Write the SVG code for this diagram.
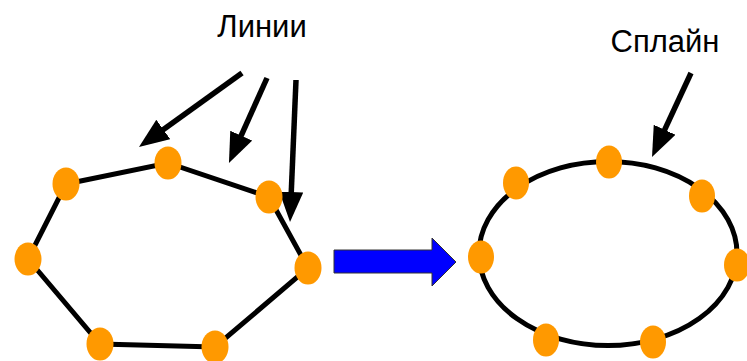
<svg xmlns="http://www.w3.org/2000/svg" width="747" height="361" viewBox="0 0 747 361">
  <style>
    .edge { stroke: #000; stroke-width: 5; fill: none; stroke-linecap: butt; }
    .ptr { stroke: #000; stroke-width: 5.5; fill: none; }
    .dot { fill: #FF9900; }
    .lbl { font-family: "Liberation Sans", Arial, sans-serif; font-size: 31px; fill: #000; text-anchor: middle; }
  </style>
  <defs>
    <marker id="head" markerUnits="userSpaceOnUse" markerWidth="32" markerHeight="26" refX="2" refY="12" orient="auto">
      <path d="M0,0 L30,12 L0,24 z" fill="#000"/>
    </marker>
  </defs>
  <rect width="747" height="361" fill="#fff"/>

  <!-- connectors: polyline edges, spline curve, pointer arrows, transition arrow -->
  <g id="connectors">
    <polygon class="edge" points="66,184 168,163 269,197 308,268 215,347 100,344 28,259"/>
    <ellipse class="edge" cx="608" cy="253.5" rx="129" ry="92"/>
    <line class="ptr" x1="242" y1="73" x2="161.7" y2="130.7" marker-end="url(#head)"/>
    <line class="ptr" x1="267" y1="78" x2="240.4" y2="137.4" marker-end="url(#head)"/>
    <line class="ptr" x1="296" y1="80" x2="291.2" y2="194" marker-end="url(#head)"/>
    <line class="ptr" x1="691" y1="73" x2="663.8" y2="131.6" marker-end="url(#head)"/>
    <polygon points="334,250 432,250 432,238 456,262 432,286 432,273 334,273" fill="#0000FF" stroke="#333" stroke-width="1"/>
  </g>

  <!-- control points of the polyline -->
  <g id="poly-p1"><ellipse class="dot" cx="66" cy="184" rx="13.5" ry="16.5"/></g>
  <g id="poly-p2"><ellipse class="dot" cx="168" cy="163" rx="13.5" ry="16.5"/></g>
  <g id="poly-p3"><ellipse class="dot" cx="269" cy="197" rx="13.5" ry="16.5"/></g>
  <g id="poly-p4"><ellipse class="dot" cx="308" cy="268" rx="13.5" ry="16.5"/></g>
  <g id="poly-p5"><ellipse class="dot" cx="215" cy="347" rx="13.5" ry="16.5"/></g>
  <g id="poly-p6"><ellipse class="dot" cx="100" cy="344" rx="13.5" ry="16.5"/></g>
  <g id="poly-p7"><ellipse class="dot" cx="28" cy="259" rx="13.5" ry="16.5"/></g>

  <!-- control points of the spline -->
  <g id="spl-p1"><ellipse class="dot" cx="516" cy="183" rx="13" ry="16.5"/></g>
  <g id="spl-p2"><ellipse class="dot" cx="609" cy="162" rx="13" ry="16.5"/></g>
  <g id="spl-p3"><ellipse class="dot" cx="702" cy="196" rx="13" ry="16.5"/></g>
  <g id="spl-p4"><ellipse class="dot" cx="737" cy="265" rx="13" ry="16.5"/></g>
  <g id="spl-p5"><ellipse class="dot" cx="653" cy="342" rx="13" ry="16.5"/></g>
  <g id="spl-p6"><ellipse class="dot" cx="546" cy="340" rx="13" ry="16.5"/></g>
  <g id="spl-p7"><ellipse class="dot" cx="481" cy="257" rx="13" ry="16.5"/></g>

  <!-- labels -->
  <g id="label-lines"><text class="lbl" x="262" y="37">Линии</text></g>
  <g id="label-spline"><text class="lbl" x="665" y="52">Сплайн</text></g>
</svg>
